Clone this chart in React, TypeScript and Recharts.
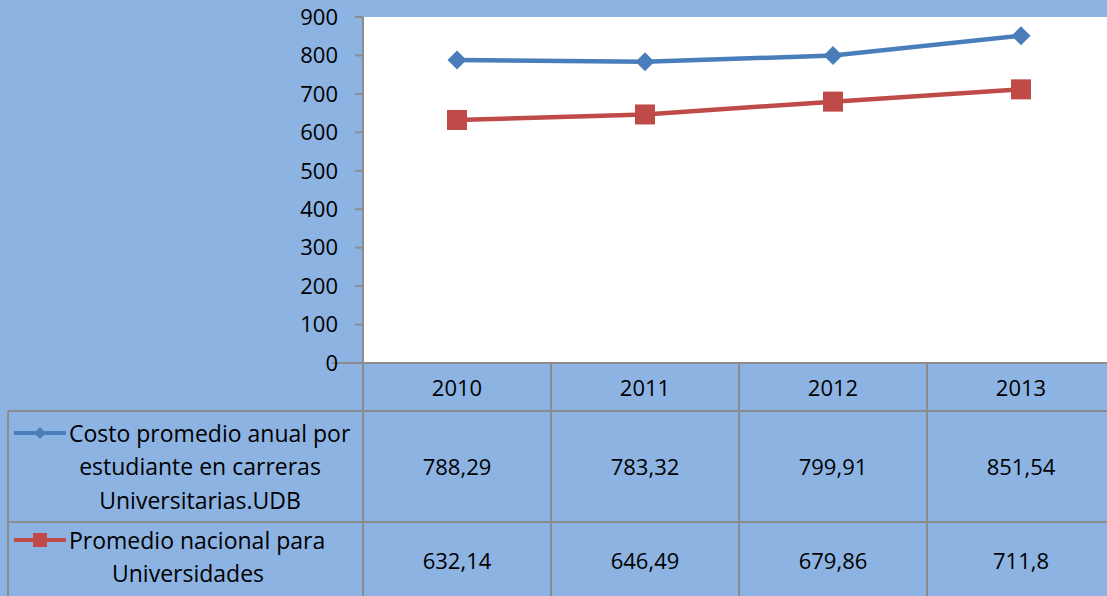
import React from 'react';
import { LineChart, Line, XAxis, YAxis, CartesianGrid } from 'recharts';

const years = ['2010', '2011', '2012', '2013'];
const udb = [788.29, 783.32, 799.91, 851.54];
const nacional = [632.14, 646.49, 679.86, 711.8];
const yTicks = [0, 100, 200, 300, 400, 500, 600, 700, 800, 900];
const udbLabel = ['Costo promedio anual por', 'estudiante en carreras', 'Universitarias.UDB'];
const nacLabel = ['Promedio nacional para', 'Universidades'];

const data = years.map((y, i) => ({ year: y, udb: udb[i], nacional: nacional[i] }));

const BLUE = '#4A7EBB';
const RED = '#BE4B48';
const GRID = '#8C8C8C';
const BG = '#8DB3E2';
const FONT = '"Open Sans", "Noto Sans", sans-serif';
const FS = 22;
const FS_LABEL = 23;

const fmt = (v: number) => String(v).replace('.', ',');

const Diamond = (props: any) => {
  const { cx, cy } = props;
  if (cx == null || cy == null) return null;
  const r = 9.5;
  return <polygon points={`${cx},${cy - r} ${cx + r},${cy} ${cx},${cy + r} ${cx - r},${cy}`} fill={BLUE} />;
};

const Square = (props: any) => {
  const { cx, cy } = props;
  if (cx == null || cy == null) return null;
  const s = 10;
  return <rect x={cx - s} y={cy - s} width={2 * s} height={2 * s} fill={RED} />;
};

const TableTick = (props: any) => {
  const { x, y, payload, index } = props;
  const half = 94;
  const bottom = y + 240;
  const r1 = y + 48;
  const r2 = y + 159;
  const txt = (t: string, tx: number, ty: number, anchor: string = 'middle', fs: number = FS) => (
    <text x={tx} y={ty} textAnchor={anchor} dominantBaseline="central" fontFamily={FONT} fontSize={fs} fill="#000">
      {t}
    </text>
  );
  return (
    <g>
      {index === 0 && (
        <g>
          <line x1={332} y1={y} x2={x - half} y2={y} stroke={GRID} strokeWidth={2} />
          <line x1={8} y1={r1} x2={1115} y2={r1} stroke={GRID} strokeWidth={2} />
          <line x1={8} y1={r2} x2={1115} y2={r2} stroke={GRID} strokeWidth={2} />
          <line x1={8} y1={r1} x2={8} y2={bottom} stroke={GRID} strokeWidth={2} />
          <line x1={14} y1={y + 70} x2={66} y2={y + 70} stroke={BLUE} strokeWidth={4} />
          <polygon points={`40,${y + 64} 46,${y + 70} 40,${y + 76} 34,${y + 70}`} fill={BLUE} />
          {txt(udbLabel[0], 69, y + 70, 'start', FS_LABEL)}
          {txt(udbLabel[1], 200, y + 103, 'middle', FS_LABEL)}
          {txt(udbLabel[2], 200, y + 137, 'middle', FS_LABEL)}
          <line x1={14} y1={y + 177} x2={66} y2={y + 177} stroke={RED} strokeWidth={4} />
          <rect x={33} y={y + 170} width={14} height={14} fill={RED} />
          {txt(nacLabel[0], 69, y + 177, 'start', FS_LABEL)}
          {txt(nacLabel[1], 188, y + 210, 'middle', FS_LABEL)}
        </g>
      )}
      <line x1={x - half} y1={y} x2={x - half} y2={bottom} stroke={GRID} strokeWidth={2} />
      <line x1={x + half} y1={y} x2={x + half} y2={bottom} stroke={GRID} strokeWidth={2} />
      {txt(payload.value, x, y + 24)}
      {txt(fmt(udb[index]), x, y + 103)}
      {txt(fmt(nacional[index]), x, y + 197)}
    </g>
  );
};

export default function App() {
  return (
    <div style={{ position: 'absolute', left: 0, top: 0, width: 1107, height: 596, overflow: 'hidden', background: BG }}>
      <LineChart width={1115} height={604} data={data} margin={{ top: 17, right: 0, left: 303, bottom: 0 }}>
        <CartesianGrid fill="#ffffff" stroke="none" horizontal={false} vertical={false} />
        <XAxis
          dataKey="year"
          height={241}
          padding={{ left: 94, right: 94 }}
          interval={0}
          tickLine={false}
          tickSize={0}
          tickMargin={0}
          axisLine={{ stroke: GRID, strokeWidth: 2 }}
          tick={<TableTick />}
        />
        <YAxis
          width={60}
          domain={[0, 900]}
          ticks={yTicks}
          interval={0}
          tickSize={8}
          tickMargin={17}
          axisLine={{ stroke: GRID, strokeWidth: 2 }}
          tickLine={{ stroke: GRID, strokeWidth: 2 }}
          tick={{ fontFamily: FONT, fontSize: FS, fill: '#000' }}
        />
        <Line dataKey="udb" stroke={BLUE} strokeWidth={4.5} dot={<Diamond />} isAnimationActive={false} />
        <Line dataKey="nacional" stroke={RED} strokeWidth={4.5} dot={<Square />} isAnimationActive={false} />
      </LineChart>
    </div>
  );
}
